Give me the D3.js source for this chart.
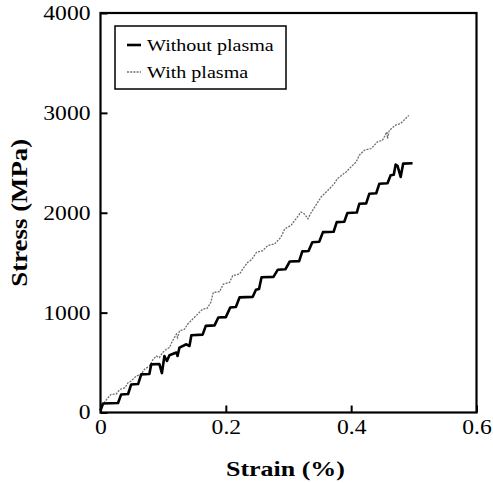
<!DOCTYPE html>
<html>
<head>
<meta charset="utf-8">
<script src="https://cdn.jsdelivr.net/npm/d3@7"></script>
<style>
  html, body { margin: 0; padding: 0; background: #fff; }
  svg { display: block; font-family: "Liberation Serif", "Times New Roman", serif; }
</style>
</head>
<body>
<svg id="chart" width="493" height="483"></svg>
<script>
// strain (%) , stress (MPa)
const withoutPlasma = [
  [0.000, 20], [0.004, 90], [0.028, 95], [0.033, 181], [0.044, 185], [0.049, 281],
  [0.060, 285], [0.065, 382], [0.078, 385], [0.081, 482], [0.094, 485], [0.098, 395],
  [0.102, 566], [0.106, 516], [0.110, 573], [0.121, 600], [0.123, 566], [0.126, 650],
  [0.137, 683], [0.142, 666], [0.145, 774], [0.163, 780], [0.168, 867], [0.182, 872],
  [0.188, 951], [0.200, 955], [0.207, 1052], [0.216, 1056], [0.222, 1153], [0.243, 1158],
  [0.248, 1229], [0.253, 1236], [0.257, 1354], [0.276, 1358], [0.283, 1430], [0.295, 1434],
  [0.302, 1512], [0.317, 1516], [0.322, 1613], [0.332, 1617], [0.338, 1705], [0.349, 1709],
  [0.355, 1806], [0.372, 1810], [0.377, 1906], [0.389, 1910], [0.394, 1998], [0.409, 2002],
  [0.413, 2090], [0.424, 2094], [0.429, 2191], [0.440, 2195], [0.445, 2291], [0.458, 2295],
  [0.463, 2375], [0.468, 2380], [0.471, 2482], [0.474, 2470], [0.479, 2359], [0.483, 2492],
  [0.498, 2495]
];

const withPlasma = [
  [0.000, 40], [0.006, 100], [0.012, 148], [0.017, 181], [0.025, 185], [0.031, 231],
  [0.039, 248], [0.044, 298], [0.049, 315], [0.057, 365], [0.065, 382], [0.070, 432],
  [0.078, 465], [0.084, 533], [0.089, 566], [0.094, 550], [0.099, 600], [0.105, 633],
  [0.110, 650], [0.115, 717], [0.121, 784], [0.123, 750], [0.126, 817], [0.134, 834],
  [0.139, 884], [0.147, 935], [0.155, 985], [0.163, 1035], [0.170, 1042], [0.176, 1102],
  [0.180, 1203], [0.190, 1209], [0.196, 1286], [0.206, 1303], [0.211, 1370], [0.222, 1387],
  [0.227, 1437], [0.235, 1504], [0.241, 1530], [0.249, 1605], [0.259, 1621], [0.267, 1672],
  [0.278, 1688], [0.288, 1756], [0.294, 1839], [0.304, 1873], [0.312, 1940], [0.320, 2007],
  [0.325, 1990], [0.331, 1940], [0.336, 2000], [0.347, 2108], [0.352, 2158], [0.363, 2225],
  [0.373, 2291], [0.378, 2342], [0.392, 2409], [0.397, 2442], [0.408, 2509], [0.413, 2576],
  [0.421, 2626], [0.432, 2643], [0.442, 2710], [0.450, 2726], [0.457, 2809], [0.458, 2743],
  [0.461, 2826], [0.471, 2877], [0.479, 2894], [0.487, 2944], [0.492, 2975]
];

const xTicks = [0, 0.2, 0.4, 0.6];
const yTicks = [0, 1000, 2000, 3000, 4000];
const seriesNames = ['Without plasma', 'With plasma'];

const svg = d3.select('#chart');
const plot = { left: 100.5, right: 476.5, top: 13, bottom: 412.5 };

const x = d3.scaleLinear().domain([0, 0.6]).range([plot.left, plot.right]);
const y = d3.scaleLinear().domain([0, 4000]).range([plot.bottom, plot.top]);

// stretch text horizontally a little, like the source picture
const stretch = 1.18;
function widen(sel) {
  sel.each(function () {
    const w = this.getComputedTextLength();
    d3.select(this).attr('textLength', w * stretch).attr('lengthAdjust', 'spacingAndGlyphs');
  });
}

const line = d3.line().x(d => x(d[0])).y(d => y(d[1]));

svg.append('path')
  .datum(withPlasma)
  .attr('d', line)
  .attr('fill', 'none')
  .attr('stroke', '#6e6e6e')
  .attr('stroke-width', 1.3)
  .attr('stroke-dasharray', '2,1.2');

svg.append('path')
  .datum(withoutPlasma)
  .attr('d', line)
  .attr('fill', 'none')
  .attr('stroke', '#000')
  .attr('stroke-width', 2.6)
  .attr('stroke-linejoin', 'round');

// axes with inward ticks
const xAxis = d3.axisBottom(x)
  .tickValues(xTicks)
  .tickFormat(d => d === 0 ? '0' : d3.format('.1f')(d))
  .tickSizeInner(-7).tickSizeOuter(0).tickPadding(7.5);

const yAxis = d3.axisLeft(y)
  .tickValues(yTicks)
  .tickFormat(d3.format('d'))
  .tickSizeInner(-7).tickSizeOuter(0).tickPadding(10);

const xg = svg.append('g').attr('transform', `translate(0,${plot.bottom})`).call(xAxis);
const yg = svg.append('g').attr('transform', `translate(${plot.left},0)`).call(yAxis);

[xg, yg].forEach(g => {
  g.select('.domain').remove();
  g.selectAll('.tick line').attr('stroke', '#000').attr('stroke-width', 2);
  g.selectAll('.tick text')
    .attr('fill', '#000')
    .style('font-family', '"Liberation Serif", "Times New Roman", serif')
    .style('font-size', '20px');
});
widen(xg.selectAll('.tick text'));
widen(yg.selectAll('.tick text'));

// frame
svg.append('rect')
  .attr('x', plot.left).attr('y', plot.top)
  .attr('width', plot.right - plot.left).attr('height', plot.bottom - plot.top)
  .attr('fill', 'none').attr('stroke', '#000').attr('stroke-width', 2.2);

// axis titles
const xTitle = svg.append('text')
  .attr('x', (plot.left + plot.right) / 2 - 3).attr('y', 476)
  .attr('text-anchor', 'middle')
  .attr('font-weight', 'bold').attr('font-size', 22)
  .text('Strain (%)');
widen(xTitle);

svg.append('text')
  .attr('transform', `translate(27,${(plot.top + plot.bottom) / 2}) rotate(-90)`)
  .attr('text-anchor', 'middle')
  .attr('font-weight', 'bold').attr('font-size', 23)
  .attr('textLength', 148).attr('lengthAdjust', 'spacingAndGlyphs')
  .text('Stress (MPa)');

// legend
const legend = svg.append('g');
legend.append('rect')
  .attr('x', 115).attr('y', 26).attr('width', 171).attr('height', 63)
  .attr('fill', '#fff').attr('stroke', '#000').attr('stroke-width', 1.5);

const legendRows = [
  { name: seriesNames[0], stroke: '#000', width: 2.6, dash: null },
  { name: seriesNames[1], stroke: '#6e6e6e', width: 1.3, dash: '2,1.2' }
];

legendRows.forEach((r, i) => {
  const cy = 45 + i * 27;
  legend.append('line')
    .attr('x1', 127).attr('x2', 141).attr('y1', cy).attr('y2', cy)
    .attr('stroke', r.stroke).attr('stroke-width', r.width)
    .attr('stroke-dasharray', r.dash);
  const t = legend.append('text')
    .attr('x', 147).attr('y', cy + 6)
    .attr('font-size', 17)
    .text(r.name);
  widen(t);
});
</script>
</body>
</html>
